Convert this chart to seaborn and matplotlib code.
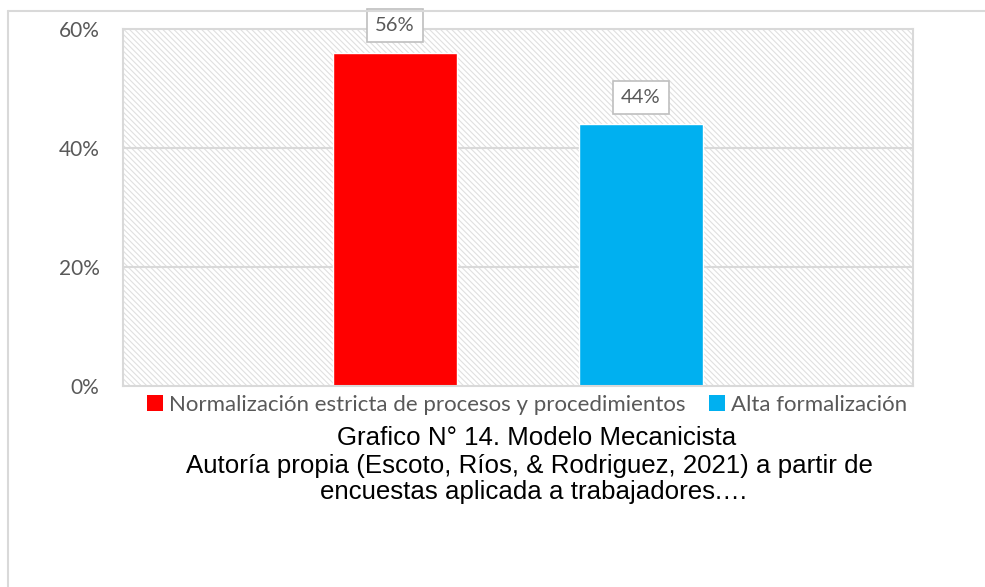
import matplotlib
matplotlib.use("Agg")
import matplotlib.pyplot as plt
import seaborn as sns
import pandas as pd
from matplotlib.patches import Rectangle
from matplotlib.lines import Line2D
from matplotlib.ticker import FuncFormatter

# Data
categories = ["Normalización estricta de procesos y procedimientos", "Alta formalización"]
values = [0.56, 0.44]
colors = ["#FF0000", "#00B0F0"]
yticks = [0.0, 0.2, 0.4, 0.6]
caption_lines = [
    "Grafico N° 14. Modelo Mecanicista",
    "Autoría propia (Escoto, Ríos, & Rodriguez, 2021) a partir de",
    "encuestas aplicada a trabajadores.…",
]

sns.set_style("white")
plt.rcParams["font.family"] = ["Lato", "DejaVu Sans"]
plt.rcParams["hatch.linewidth"] = 0.8

df = pd.DataFrame({"cat": categories, "val": values})

fig = plt.figure(figsize=(9.85, 5.87), dpi=100)
ax = fig.add_axes([123 / 985, 1 - 386 / 587, (913 - 123) / 985, (386 - 29) / 587])

grid_c = "#D9D9D9"
text_c = "#595959"

# hatched plot-area background
bg = Rectangle((0, 0), 1, 1, transform=ax.transAxes, facecolor="white",
               edgecolor="#E0E0E0", hatch="\\" * 6, linewidth=0, zorder=0)
ax.add_patch(bg)

sns.barplot(data=df, x="cat", y="val", hue="cat", palette=colors,
            width=0.504, saturation=1, legend=True, ax=ax, zorder=3)

ax.set_xlim(-1.106, 2.106)
ax.set_ylim(0, 0.6)
ax.set_yticks(yticks)
ax.yaxis.set_major_formatter(FuncFormatter(lambda v, _: f"{v * 100:.0f}%"))
ax.tick_params(axis="y", length=0, pad=17, labelsize=15, labelcolor=text_c)
ax.set_xticks([])
ax.set_xlabel("")
ax.set_ylabel("")
for yv in yticks[1:3]:
    ax.axhline(yv, color=grid_c, linewidth=1.5, zorder=1)
for s in ax.spines.values():
    s.set_visible(True)
    s.set_color(grid_c)
    s.set_linewidth(1.5)
    s.set_zorder(4)

# value labels in boxes
for i, v in enumerate(values):
    ax.annotate(f"{v * 100:.0f}%", xy=(i, v), xytext=(0, 19.5),
                textcoords="offset points", ha="center", va="center",
                fontsize=14.5, color=text_c, zorder=6, annotation_clip=False,
                bbox=dict(boxstyle="square,pad=0.4", facecolor="white",
                          edgecolor="#BFBFBF", linewidth=1.2))

# legend below the plot area
handles = [Rectangle((0, 0), 1, 1, facecolor=c, edgecolor="none") for c in colors]
ax.legend(handles, categories, loc="center", bbox_to_anchor=(0.5116, -0.053),
          ncol=2, frameon=False, fontsize=16, labelcolor=text_c,
          handlelength=0.7, handleheight=0.7, handletextpad=0.3,
          columnspacing=1.05, borderaxespad=0)

# caption
cap_pos = [(537, 438), (529, 466), (534, 492)]
for line, (x, y) in zip(caption_lines, cap_pos):
    fig.text(x / 985, 1 - y / 587, line, ha="center", va="center",
             fontsize=18.6, color="black", family=["Liberation Sans", "DejaVu Sans"])

# outer frame (left and top edges)
fig.add_artist(Line2D([8 / 985, 8 / 985], [0, 1 - 11 / 587], transform=fig.transFigure,
                      color=grid_c, linewidth=1.5))
fig.add_artist(Line2D([8 / 985, 1], [1 - 11 / 587, 1 - 11 / 587], transform=fig.transFigure,
                      color=grid_c, linewidth=1.5))

fig.savefig("out.png", dpi=100)
